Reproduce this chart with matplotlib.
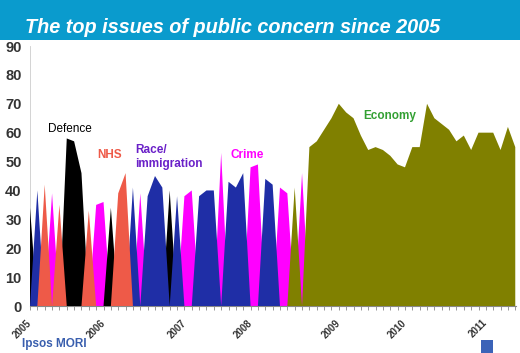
import matplotlib
matplotlib.use("Agg")
import matplotlib.pyplot as plt
import numpy as np
from matplotlib.patches import Rectangle

# ---- data ----
top_issue = (
    ["Defence", "Race", "NHS", "Crime", "NHS", "Defence", "Defence", "Defence",
     "NHS", "Crime", "Crime", "Defence", "NHS", "NHS", "Race", "Crime",
     "Race", "Race", "Race", "Defence", "Race", "Crime", "Crime", "Race",
     "Race", "Race", "Crime", "Race", "Race", "Race", "Crime", "Crime",
     "Race", "Race", "Crime", "Crime", "Economy", "Crime"]
    + ["Economy"] * 29
)
top_value = [
    34, 40, 42, 39, 35, 58, 57, 46,
    33, 35, 36, 34, 39, 46, 41, 39,
    38, 45, 41, 40, 38, 38, 40, 38,
    40, 40, 53, 43, 41, 46, 48, 49,
    44, 42, 41, 39, 41, 46,
    55, 57, 61, 65, 70, 67, 65, 59, 54, 55, 54, 52, 49, 48,
    55, 55, 70, 65, 63, 61, 57, 59, 54, 60, 60, 60, 54, 62, 55,
]
year_labels = ["2005", "2006", "2007", "2008", "2009", "2010", "2011"]
year_positions = [0, 10, 21, 30, 42, 51, 62]

draw_order = ["Crime", "Economy", "Defence", "Race", "NHS"]
fill_colors = {
    "Crime": "#ff00ff",
    "Economy": "#808000",
    "Defence": "#000000",
    "Race": "#1f2ea6",
    "NHS": "#ee5a48",
}

# ---- figure ----
fig = plt.figure(figsize=(5.2, 3.53), dpi=100)
fig.patch.set_facecolor("white")

# title banner
fig.patches.append(Rectangle((0, 1 - 40 / 353), 1, 40 / 353, transform=fig.transFigure,
                             facecolor="#0a9bcd", edgecolor="none", zorder=0))
fig.text(25 / 520, 1 - 33 / 353, "The top issues of public concern since 2005",
         color="white", fontsize=14.3, fontweight="heavy", fontstyle="italic",
         family="Liberation Sans", ha="left", va="baseline")

ax = fig.add_axes([30 / 520, 1 - 306 / 353, 486 / 520, 260 / 353])
n = len(top_value)
x = np.arange(n)
for i, issue in enumerate(draw_order):
    vals = np.array([v if t == issue else 0 for t, v in zip(top_issue, top_value)], float)
    ax.fill_between(x, 0, vals, facecolor=fill_colors[issue], edgecolor="none",
                    linewidth=0, zorder=2 + i)

ax.set_xlim(0, n - 1 + 0.1)
ax.set_ylim(0, 90)
ax.set_yticks(range(0, 91, 10))
ax.tick_params(axis="y", length=0, pad=6, labelsize=10.5, labelcolor="#333333")
for lab in ax.get_yticklabels():
    lab.set_fontweight("bold")
    lab.set_family("Liberation Sans")

xt_labels = [""] * n
for lab, pos in zip(year_labels, year_positions):
    xt_labels[pos] = lab
ax.set_xticks(x)
ax.set_xticklabels(xt_labels, rotation=45, ha="right", va="center",
                   rotation_mode="anchor", fontsize=7, fontweight="bold",
                   color="#333333", family="Liberation Sans")
ax.tick_params(axis="x", length=3, width=0.6, color="#888888", pad=8, direction="out")

for s in ["top", "right"]:
    ax.spines[s].set_visible(False)
ax.spines["left"].set_color("#cccccc")
ax.spines["left"].set_linewidth(0.6)
ax.spines["bottom"].set_color("#888888")
ax.spines["bottom"].set_linewidth(0.8)
ax.patch.set_alpha(0)

# in-chart labels
lab_kw = dict(fontsize=8.5, fontweight="bold", family="Liberation Sans", ha="left",
              va="baseline", zorder=10)
ax.text(2.4, 60.3, "Defence", color="#000000", **{**lab_kw, "fontweight": "normal"})
ax.text(9.1, 51.3, "NHS", color="#ee5a48", **lab_kw)
ax.text(14.3, 48.0, "Race/\nimmigration", color="#6a20c8", linespacing=1.3, **lab_kw)
ax.text(27.3, 51.2, "Crime", color="#ff00ff", **lab_kw)
ax.text(45.3, 64.8, "Economy", color="#33a033", **lab_kw)

# footer
fig.text(22 / 520, 1 - 347 / 353, "Ipsos MORI", color="#3a5fae", fontsize=8.5,
         fontweight="bold", family="Liberation Sans", ha="left", va="baseline")
fig.patches.append(Rectangle((481 / 520, 0), 12 / 520, 13 / 353, transform=fig.transFigure,
                             facecolor="#3b63b8", edgecolor="none"))

fig.savefig("out.png", dpi=100)
